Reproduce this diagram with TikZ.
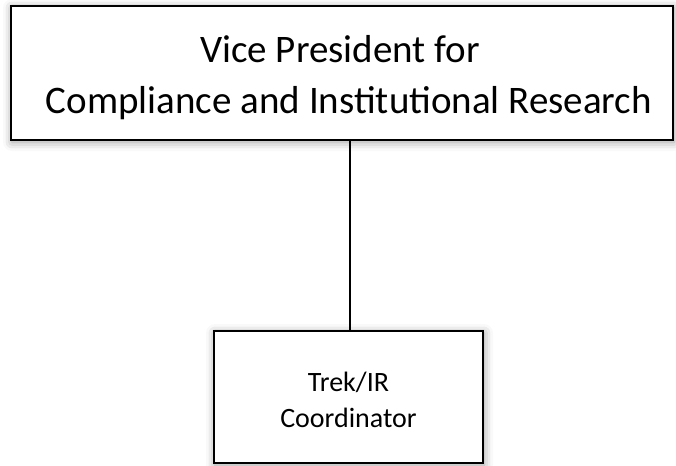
\documentclass[tikz,border=0pt]{standalone}
\usepackage{fontspec}
\setmainfont{Carlito}
\usetikzlibrary{shadows.blur}
\tikzset{
  orgbox/.style={draw=black, line width=2pt, fill=white, inner sep=0pt,
    blur shadow={shadow xshift=1pt, shadow yshift=-2pt, shadow blur radius=9pt, shadow opacity=40}},
  boxtext/.style={align=center, inner sep=0pt},
  conn/.style={draw=black, line width=2pt}
}
\begin{document}
\begin{tikzpicture}[x=1pt,y=-1pt]
\useasboundingbox (0,0) rectangle (676,465);
\node[orgbox, minimum width=662pt, minimum height=134pt,
      label={[boxtext, font=\fontsize{39}{51}\selectfont, xshift=7pt, yshift=-5pt]center:Vice President for\hspace*{18pt}\\Compliance and Institutional Research}] (vp) at (342,73) {};
\node[orgbox, minimum width=269pt, minimum height=132pt,
      label={[boxtext, font=\fontsize{28}{36}\selectfont, yshift=-3pt]center:Trek/IR\\Coordinator}] (trek) at (348.5,397) {};
\draw[conn] (vp.south -| trek.north) ++(1.5,0) coordinate (c1) -- (c1 |- trek.north);
\end{tikzpicture}
\end{document}
